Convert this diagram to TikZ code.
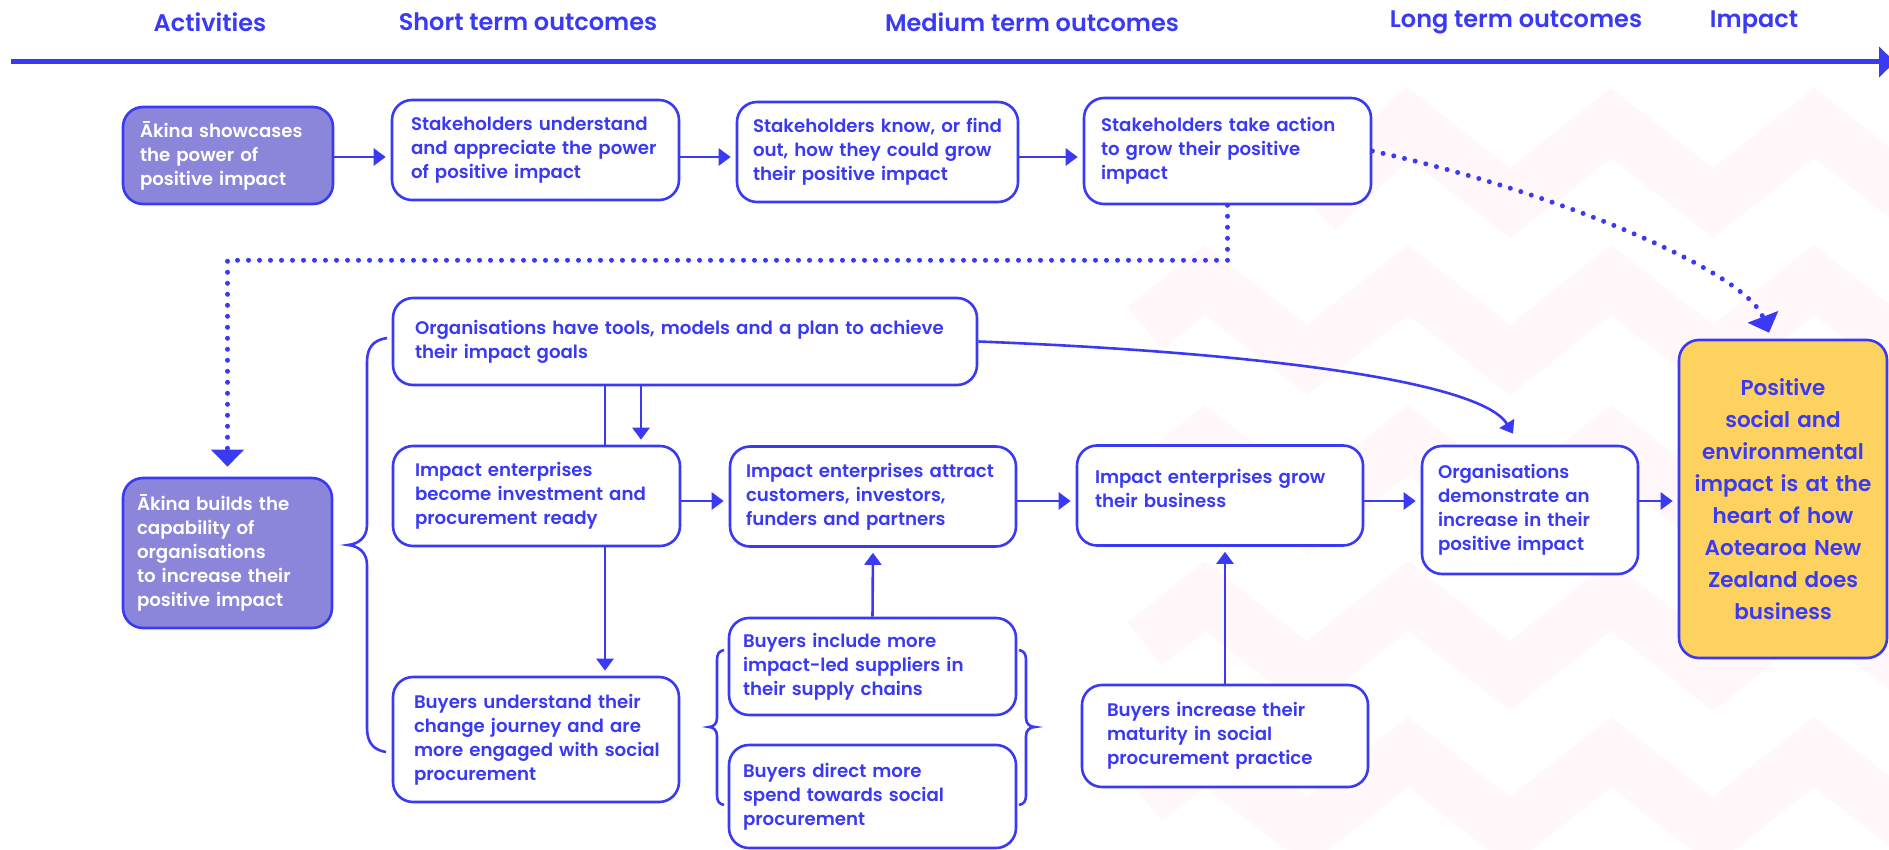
\documentclass[tikz,border=0pt]{standalone}
\usepackage{fontspec}
\setmainfont{Poppins}[UprightFont=* SemiBold, BoldFont=* Bold]
\usetikzlibrary{arrows.meta}
\definecolor{blu}{RGB}{58,58,245}
\definecolor{purp}{RGB}{139,134,218}
\definecolor{yel}{RGB}{254,210,94}
\definecolor{zigc}{RGB}{255,247,249}
\newcommand\LL[1]{\mbox{#1}}
\pgfdeclarelayer{zig}
\pgfdeclarelayer{bg}
\pgfsetlayers{zig,bg,main}
\tikzset{
  box/.style={draw=blu, line width=2.6pt, rounded corners=20pt, fill=white, text=blu,
    align=left, inner ysep=0pt, font=\fontsize{18.2}{24}\selectfont},
  pbox/.style={box, fill=purp, text=white},
  hdr/.style={text=blu, font=\fontsize{24}{28}\selectfont, inner sep=0pt},
  arr/.style={draw=blu, line width=2.6pt, -{Triangle[length=12pt,width=17pt]}, shorten >=5pt},
  dotarr/.style={draw=blu, line width=5pt, line cap=round, dash pattern=on 0pt off 11pt,
    -{Triangle[length=17pt,width=32pt]}},
  brace/.style={draw=blu, line width=2.6pt},
  zz/.style={draw=zigc, line width=55pt, line join=miter}
}
\begin{document}
\begin{tikzpicture}[x=1pt,y=-1pt]
\useasboundingbox (0,0) rectangle (1889,850);
\begin{pgfonlayer}{zig}
\fill[white] (0,0) rectangle (1889,850);
\draw[zz] (1316,210) -- (1408,123) -- (1510,203) -- (1611,123) -- (1713,203) -- (1814,123) -- (1916,203);
\foreach \yp in {280,440,596,752}{
  \draw[zz] (1145,\yp+48) -- (1205,\yp) -- (1307,\yp+80) -- (1408,\yp) -- (1510,\yp+80) -- (1611,\yp) -- (1713,\yp+80) -- (1814,\yp) -- (1916,\yp+80);
}
\end{pgfonlayer}

% headers
\node[hdr] (h1) at (210,22) {Activities};
\node[hdr] (h2) at (528,22) {Short term outcomes};
\node[hdr] (h3) at (1032,22) {Medium term outcomes};
\node[hdr] (h4) at (1516,22) {Long term outcomes};
\node[hdr] (h5) at (1754,22) {Impact};
\coordinate (axL) at (11,62);
\coordinate (axR) at (1895,62);
\draw[blu, line width=5pt, -{Triangle[length=16pt,width=30pt]}] (axL) -- (axR);

% top row
\node[pbox, text width=176pt, inner xsep=17pt, minimum height=97pt] (b1) at (228,155.5) {\LL{Ākina showcases}\\\LL{the power of}\\\LL{positive impact}};
\node[box, text width=249pt, inner xsep=19pt, minimum height=100pt] (b2) at (535.5,150) {\LL{Stakeholders understand}\\\LL{and appreciate the power}\\\LL{of positive impact}};
\node[box, text width=249pt, inner xsep=16pt, minimum height=100pt] (b3) at (877.5,152) {\LL{Stakeholders know, or find}\\\LL{out, how they could grow}\\\LL{their positive impact}};
\node[box, text width=253pt, inner xsep=17pt, minimum height=106pt] (b4) at (1227.5,151) {\LL{Stakeholders take action}\\\LL{to grow their positive}\\\LL{impact}};

% left activity
\node[pbox, text width=181pt, inner xsep=14pt, minimum height=150pt] (a2) at (227.5,553) {\LL{Ākina builds the}\\\LL{capability of}\\\LL{organisations}\\\LL{to increase their}\\\LL{positive impact}};

% middle
\node[box, text width=540pt, inner xsep=22pt, minimum height=87pt] (org) at (685,341.5) {\LL{Organisations have tools, models and a plan to achieve}\\\LL{their impact goals}};
\node[box, text width=243pt, inner xsep=22pt, minimum height=100pt] (ready) at (536.5,496) {\LL{Impact enterprises}\\\LL{become investment and}\\\LL{procurement ready}};
\node[box, text width=254pt, inner xsep=16pt, minimum height=100pt] (attract) at (873,496.5) {\LL{Impact enterprises attract}\\\LL{customers, investors,}\\\LL{funders and partners}};
\node[box, text width=250pt, inner xsep=18pt, minimum height=100pt] (grow) at (1220,495.5) {\LL{Impact enterprises grow}\\\LL{their business}\\[-10pt]\mbox{}};
\node[box, text width=184pt, inner xsep=16pt, minimum height=128pt] (demo) at (1530,510) {\LL{Organisations}\\\LL{demonstrate an}\\\LL{increase in their}\\\LL{positive impact}};
\node[box, fill=yel, align=center, text width=188pt, inner xsep=10pt, minimum height=318pt, font=\fontsize{21.5}{32}\selectfont] (yel) at (1783,499) {\LL{Positive}\\\LL{social and}\\\LL{environmental}\\\LL{impact is at the}\\\LL{heart of how}\\\LL{Aotearoa New}\\\LL{Zealand does}\\\LL{business}};

% bottom
\node[box, text width=244pt, inner xsep=21pt, minimum height=125pt] (buyu) at (536,739.5) {\LL{Buyers understand their}\\\LL{change journey and are}\\\LL{more engaged with social}\\\LL{procurement}};
\node[box, text width=259pt, inner xsep=14pt, minimum height=97pt] (buyi) at (872.5,666.5) {\LL{Buyers include more}\\\LL{impact-led suppliers in}\\\LL{their supply chains}};
\node[box, text width=259pt, inner xsep=14pt, minimum height=103pt] (buyd) at (872.5,796.5) {\LL{Buyers direct more}\\\LL{spend towards social}\\\LL{procurement}};
\node[box, text width=236pt, inner xsep=25pt, minimum height=102pt] (buym) at (1225,736) {\LL{Buyers increase their}\\\LL{maturity in social}\\\LL{procurement practice}};

% connectors
\coordinate (r1) at (0,157);
\coordinate (r2) at (0,501);
\draw[arr] (b1.east |- r1) -- (b2.west |- r1);
\draw[arr] (b2.east |- r1) -- (b3.west |- r1);
\draw[arr] (b3.east |- r1) -- (b4.west |- r1);
\draw[dotarr] (b4.east) .. controls (1550,190) and (1745,270) .. ([shift={(-14,-6)}]yel.north);
\draw[dotarr] (b4.south) -- ++(0,55) -| ([yshift=10pt]a2.north);

\draw[arr] ([xshift=-44pt]org.south) -- ([xshift=-44pt]org.south |- ready.north);
\begin{pgfonlayer}{bg}
\draw[arr] ([xshift=-80pt]org.south) -- ([xshift=-80pt]org.south |- buyu.north);
\end{pgfonlayer}
\draw[arr] (ready.east |- r2) -- (attract.west |- r2);
\draw[arr] (attract.east |- r2) -- (grow.west |- r2);
\draw[arr] (grow.east |- r2) -- (demo.west |- r2);
\draw[arr] (demo.east |- r2) -- (yel.west |- r2);
\draw[arr] (buyi.north) -- (attract.south);
\draw[arr] (buym.north) -- (buym.north |- grow.south);
\draw[arr, shorten >=0pt] (org.east) .. controls (1250,352) and (1480,380) .. ([shift={(-17,-11)}]demo.north);

% braces
\draw[brace] (387,338) .. controls (373,340) and (367,348) .. (367,362) -- (367,525)
  .. controls (367,538) and (358,544) .. (348,545) .. controls (358,546) and (367,552) .. (367,565)
  -- (367,728) .. controls (367,742) and (373,750) .. (386,752);
\draw[brace] (724,650) .. controls (719,651) and (717,654) .. (717,660) -- (717,718)
  .. controls (717,724) and (713,727) .. (709,727) .. controls (713,727) and (717,730) .. (717,736)
  -- (717,795) .. controls (717,801) and (719,804) .. (724,805);
\draw[brace] (1019,650) .. controls (1024,651) and (1026,654) .. (1026,660) -- (1026,718)
  .. controls (1026,724) and (1030,727) .. (1035,727) .. controls (1030,727) and (1026,730) .. (1026,736)
  -- (1026,795) .. controls (1026,801) and (1024,804) .. (1019,805);
\end{tikzpicture}
\end{document}
